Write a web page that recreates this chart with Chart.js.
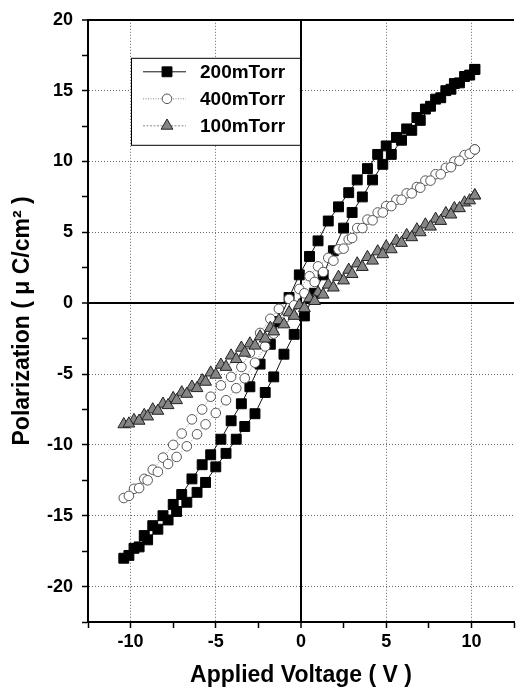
<!DOCTYPE html>
<html>
<head>
<meta charset="utf-8">
<title>Polarization loops</title>
<script src="https://cdn.jsdelivr.net/npm/chart.js@4.4.1/dist/chart.umd.min.js"></script>
<style>
  html, body { margin: 0; padding: 0; background: #fff; overflow: hidden; }
  #wrap { width: 522px; height: 689px; }
</style>
</head>
<body>
<div id="wrap"><canvas id="loopChart" width="522" height="689"></canvas></div>
<script>
// voltage sweep (V): +10.2 down to -10.4, then back up to +10.2
const voltage = [
  10.2, 9.6, 9.0, 8.5, 7.9, 7.3, 6.8, 6.2, 5.6, 5.0, 4.5, 3.9, 3.3, 2.8, 2.2, 1.6, 1.0, 0.5,
  -0.1, -0.7, -1.3, -1.8, -2.4, -3.0, -3.5, -4.1, -4.7, -5.3, -5.8, -6.4, -7.0, -7.5, -8.1,
  -8.7, -9.2, -9.8, -10.4,
  -10.1, -9.5, -9.0, -8.4, -7.8, -7.3, -6.7, -6.1, -5.6, -5.0, -4.4, -3.8, -3.3, -2.7, -2.1,
  -1.6, -1.0, -0.4, 0.2, 0.8, 1.3, 1.9, 2.5, 3.0, 3.6, 4.2, 4.8, 5.3, 5.9, 6.5, 7.0, 7.6,
  8.2, 8.8, 9.3, 9.9, 10.2
];

// polarization (uC/cm2) for each sample
const p200 = [
  16.5, 16.0, 15.5, 15.0, 14.4, 13.7, 13.1, 12.3, 11.7, 11.1, 10.5, 9.5, 8.7, 7.8, 6.8, 5.8, 4.4, 3.3,
  2.0, 0.4, -1.3, -2.9, -4.3, -5.9, -7.1, -8.3, -9.6, -10.7, -11.4, -12.4, -13.5, -14.2, -15.0,
  -15.7, -16.4, -17.3, -18.0,
  -17.8, -17.2, -16.7, -15.95, -15.3, -14.7, -14.05, -13.35, -12.65, -11.55, -10.6, -9.6, -8.7, -7.8, -6.3,
  -5.2, -3.6, -2.2, -0.9, 0.7, 2.0, 3.7, 5.3, 6.4, 7.5, 8.7, 9.8, 10.5, 11.5, 12.2, 12.9, 13.9,
  14.5, 15.1, 15.55, 16.1, 16.5
];
const p400 = [
  10.85, 10.45, 10.0, 9.55, 9.1, 8.65, 8.2, 7.75, 7.3, 6.85, 6.4, 5.9, 5.3, 4.5, 3.8, 3.2, 2.6, 1.9,
  1.0, 0.3, -0.4, -1.1, -2.1, -3.5, -4.5, -5.2, -5.8, -6.6, -7.5, -8.2, -9.2, -10.0, -10.9,
  -11.75, -12.4, -13.1, -13.75,
  -13.6, -13.05, -12.5, -11.9, -11.35, -10.85, -10.1, -9.25, -8.55, -7.75, -6.85, -6.0, -5.3, -4.2, -3.05,
  -2.15, -1.1, -0.15, 0.7, 1.5, 2.2, 3.0, 3.85, 4.6, 5.3, 5.85, 6.4, 6.85, 7.3, 7.75, 8.15, 8.65,
  9.1, 9.6, 10.05, 10.55, 10.85
];
const p100 = [
  7.6, 7.1, 6.7, 6.35, 5.95, 5.55, 5.2, 4.8, 4.4, 4.0, 3.65, 3.25, 2.8, 2.35, 1.85, 1.3, 0.75, 0.35,
  -0.15, -0.65, -1.2, -1.75, -2.35, -2.85, -3.15, -3.7, -4.35, -4.9, -5.45, -5.9, -6.3, -6.7, -7.1,
  -7.5, -7.9, -8.25, -8.55,
  -8.5, -8.3, -8.0, -7.6, -7.2, -6.85, -6.4, -6.0, -5.55, -5.05, -4.5, -3.95, -3.5, -3.0, -2.5,
  -2.0, -1.5, -0.9, -0.35, 0.15, 0.6, 1.1, 1.6, 2.05, 2.55, 3.0, 3.45, 3.8, 4.25, 4.65, 5.0, 5.4,
  5.8, 6.25, 6.7, 7.25, 7.6
];

const seriesNames = ["200mTorr", "400mTorr", "100mTorr"];

function toPoints(values) {
  return values.map((p, i) => ({ x: voltage[i], y: p }));
}

const isMajor = (v) => Math.abs(v % 5) < 1e-6;

function gridColor(ctx) {
  const v = ctx.tick ? ctx.tick.value : null;
  if (v === 0 || v === 20) return "#000";
  if (v !== null && isMajor(v)) return "#666";
  return "rgba(0,0,0,0)";
}
function gridWidth(ctx) {
  const v = ctx.tick ? ctx.tick.value : null;
  return v === 0 || v === 20 ? 2 : 1;
}
function gridDash(ctx) {
  const v = ctx.tick ? ctx.tick.value : null;
  if (v === null || v === 0 || v === 20) return [];
  return [1, 2];
}

// legend box drawn inside the plot, upper left
const boxLegend = {
  id: "boxLegend",
  afterDatasetsDraw(chart) {
    const ctx = chart.ctx;
    const area = chart.chartArea;
    const left = area.left + 43;
    const top = area.top + 38;
    const w = 169, h = 87;
    ctx.save();
    ctx.fillStyle = "#fff";
    ctx.fillRect(left, top, w, h);
    ctx.strokeStyle = "#000";
    ctx.lineWidth = 1;
    ctx.strokeRect(left + 0.5, top + 0.5, w, h);

    chart.data.datasets.forEach((ds, i) => {
      const y = top + 14 + i * 27;
      ctx.save();
      ctx.strokeStyle = ds.borderColor;
      ctx.lineWidth = ds.borderWidth;
      ctx.setLineDash(ds.borderDash || []);
      ctx.beginPath();
      ctx.moveTo(left + 12, y);
      ctx.lineTo(left + 55, y);
      ctx.stroke();
      ctx.setLineDash([]);
      ctx.fillStyle = ds.pointBackgroundColor;
      ctx.strokeStyle = ds.pointBorderColor;
      ctx.lineWidth = ds.pointBorderWidth;
      Chart.helpers.drawPoint(ctx, {
        pointStyle: ds.pointStyle,
        radius: ds.pointRadius,
        rotation: 0,
        borderWidth: ds.pointBorderWidth
      }, left + 36, y);
      ctx.restore();

      ctx.fillStyle = "#000";
      ctx.font = "bold 19px 'Liberation Sans', Arial, sans-serif";
      ctx.textBaseline = "middle";
      ctx.textAlign = "left";
      ctx.fillText(ds.label, left + 69, y + 1);
    });
    ctx.restore();
  }
};

const tickFont = { family: "'Liberation Sans', Arial, sans-serif", size: 18, weight: "bold" };
const titleFont = { family: "'Liberation Sans', Arial, sans-serif", size: 23, weight: "bold" };

const ctx = document.getElementById("loopChart").getContext("2d");
const loopChart = new Chart(ctx, {
  type: "scatter",
  data: {
    datasets: [
      {
        label: seriesNames[0],
        data: toPoints(p200),
        showLine: true,
        borderColor: "#111",
        borderWidth: 1,
        pointStyle: "rect",
        pointRadius: 7,
        pointBackgroundColor: "#000",
        pointBorderColor: "#000",
        pointBorderWidth: 1,
        order: 3
      },
      {
        label: seriesNames[1],
        data: toPoints(p400),
        showLine: true,
        borderColor: "#888",
        borderWidth: 1,
        borderDash: [1, 1.5],
        pointStyle: "circle",
        pointRadius: 4.8,
        pointBackgroundColor: "#fff",
        pointBorderColor: "#555",
        pointBorderWidth: 1,
        order: 2
      },
      {
        label: seriesNames[2],
        data: toPoints(p100),
        showLine: true,
        borderColor: "#888",
        borderWidth: 1,
        borderDash: [2, 1.5],
        pointStyle: "triangle",
        pointRadius: 6.8,
        pointBackgroundColor: "#858585",
        pointBorderColor: "#222",
        pointBorderWidth: 1,
        order: 1
      }
    ]
  },
  options: {
    responsive: false,
    animation: false,
    layout: { padding: { left: 0, right: 2, top: 17, bottom: 0 } },
    plugins: {
      legend: { display: false },
      tooltip: { enabled: false }
    },
    scales: {
      x: {
        type: "linear",
        min: -12.5,
        max: 12.5,
        afterFit: (scale) => { scale.height = 67; },
        ticks: {
          stepSize: 2.5,
          autoSkip: false,
          maxRotation: 0,
          padding: 3,
          color: "#000",
          font: tickFont,
          callback: (v) => (isMajor(v) ? String(v) : "")
        },
        grid: {
          color: gridColor,
          lineWidth: gridWidth,
          tickColor: "#000",
          tickLength: 6,
          tickWidth: 1.5
        },
        border: { display: true, color: "#000", width: 2, dash: gridDash },
        title: {
          display: true,
          text: "Applied Voltage ( V )",
          color: "#000",
          font: titleFont,
          padding: { top: 0, bottom: 0 }
        }
      },
      y: {
        type: "linear",
        min: -22.5,
        max: 20,
        afterFit: (scale) => { scale.width = 88; },
        ticks: {
          stepSize: 2.5,
          autoSkip: false,
          padding: 9,
          color: "#000",
          font: tickFont,
          callback: (v) => (isMajor(v) ? String(v) : "")
        },
        grid: {
          color: gridColor,
          lineWidth: gridWidth,
          tickColor: "#000",
          tickLength: 6,
          tickWidth: 1.5
        },
        border: { display: true, color: "#000", width: 2, dash: gridDash },
        title: {
          display: true,
          text: "Polarization ( μ C/cm² )",
          color: "#000",
          font: titleFont,
          padding: { top: 9, bottom: 0 }
        }
      }
    }
  },
  plugins: [boxLegend]
});
</script>
</body>
</html>
